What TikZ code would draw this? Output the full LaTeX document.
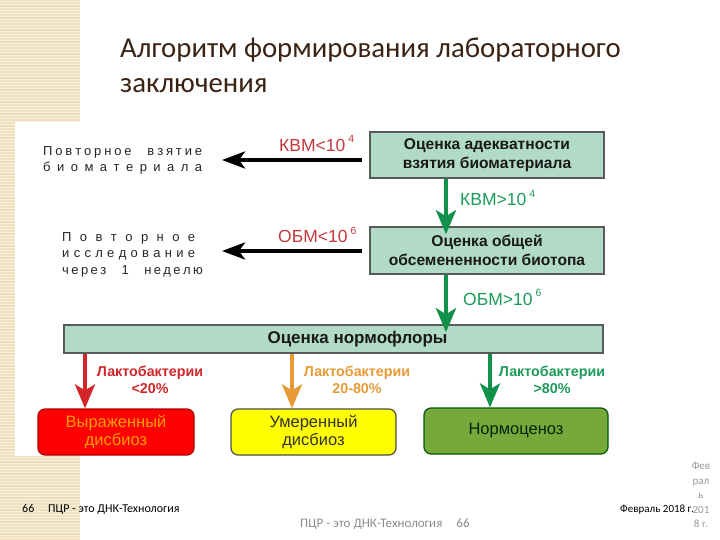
\documentclass[tikz,border=0pt]{standalone}
\usepackage{fontspec}
\setmainfont{Liberation Sans}
\newfontfamily\titlefont{Carlito}
\usepackage{xcolor}
\usetikzlibrary{arrows.meta,calc,positioning}

\definecolor{beige}{HTML}{EFE1BF}
\definecolor{beigeline}{HTML}{F8F0DC}
\definecolor{titlebrown}{HTML}{3B2314}
\definecolor{mint}{HTML}{B2DBC7}
\definecolor{boxgray}{HTML}{5A5A5A}
\definecolor{lowred}{HTML}{C4383C}
\definecolor{highgreen}{HTML}{1B9A58}
\definecolor{arrowgreen}{HTML}{119149}
\definecolor{dysred}{HTML}{D2262B}
\definecolor{dysorange}{HTML}{E79A36}
\definecolor{boxred}{HTML}{FF0000}
\definecolor{boxyellow}{HTML}{FFFF00}
\definecolor{boxgreen}{HTML}{76A83B}

\tikzset{
  checkbox/.style={draw=boxgray,line width=1.5pt,fill=mint,minimum width=234pt,minimum height=46pt,align=center,font=\fontsize{15.6}{19}\selectfont\bfseries,text=black!90},
  resultbox/.style={rounded corners=7pt,line width=1.2pt,minimum height=46pt,align=center,font=\fontsize{16.5}{18}\selectfont},
  sidetext/.style={inner sep=0pt,anchor=base west,align=left,text=black!85,font=\fontsize{13}{16.5}\selectfont},
  condlabel/.style={inner sep=0pt,anchor=base west,font=\fontsize{17.5}{18}\selectfont},
  lactolabel/.style={align=center,inner sep=0pt,font=\fontsize{14.3}{17}\selectfont\bfseries},
  backarrow/.style={line width=4pt,-{Stealth[length=23pt,width=17pt,inset=6pt]}},
  downarrow/.style={line width=4.5pt,-{Stealth[length=24pt,width=20pt,inset=6pt]}},
  footer/.style={inner sep=0pt,anchor=base west,font=\titlefont\fontsize{12}{12}\selectfont}
}
\newcommand{\expo}[1]{\kern3pt\raisebox{9pt}{\fontsize{10.5}{10}\selectfont #1}}

\begin{document}
\begin{tikzpicture}[x=1pt,y=-1pt]
\useasboundingbox (0,0) rectangle (720,540);
% striped side band
\fill[beige] (0,0) rectangle (80,540);
\foreach \yy in {1.5,4.5,...,538.5}{\draw[beigeline,line width=1pt] (0,\yy) -- (80,\yy);}
\fill[white] (15,122) rectangle (80,456);

% title
\node[inner sep=0pt,anchor=base west,align=left,text=titlebrown,font=\titlefont\fontsize{28.8}{35}\selectfont] (title) at (120,93) {Алгоритм формирования лабораторного\\заключения};

% check boxes
\node[checkbox] (adeq) at (487,155) {Оценка адекватности\\взятия биоматериала};
\node[checkbox,minimum height=47pt] (biot) at (487,250.5) {Оценка общей\\обсемененности биотопа};
\node[checkbox,minimum width=539pt,minimum height=28pt,font=\fontsize{17}{19}\selectfont\bfseries] (norm) at (333.5,339) {\hspace*{48pt}Оценка нормофлоры};

% outcomes
\node[resultbox,draw=red!70!black,fill=boxred,text=orange!75!yellow,minimum width=156pt] (strong) at (116,432) {Выраженный\\дисбиоз};
\node[resultbox,draw=black!70,fill=boxyellow,text=black!80,minimum width=165pt] (moderate) at (313.5,432) {Умеренный\\дисбиоз};
\node[resultbox,draw=green!35!black,fill=boxgreen,text=black!85!green,minimum width=184pt] (normo) at (516,431) {Нормоценоз};

% side texts
\node[sidetext] (retake) at (43,172) {\makebox[159pt][s]{П о в т о р н о е \quad в з я т и е}\\\makebox[159pt][s]{б и о м а т е р и а л а}};
\node[sidetext] (repeat) at (62,274) {\makebox[133pt][s]{П о в т о р н о е}\\\makebox[133pt][s]{и с с л е д о в а н и е}\\\makebox[133pt][s]{ч е р е з \quad 1 \quad н е д е л ю}};

% back arrows
\coordinate (retakeend) at (222,160);
\coordinate (repeatend) at (222,251);
\draw[backarrow] ([xshift=-7pt]adeq.west |- retakeend) -- (retakeend);
\draw[backarrow] ([xshift=-7pt]biot.west |- repeatend) -- (repeatend);
\node[condlabel,text=lowred] (kvmlow) at (279,152) {КВМ<10\expo{4}};
\node[condlabel,text=lowred] (obmlow) at (278,243) {ОБМ<10\expo{6}};

% forward arrows
\draw[downarrow,arrowgreen,shorten >=-8pt] ([xshift=-41pt]adeq.south) -- ([xshift=-41pt]biot.north);
\draw[downarrow,arrowgreen,shorten >=-8pt] ([xshift=-41pt]biot.south) -- ([xshift=-41pt]biot.south |- norm.north);
\node[condlabel,text=highgreen] (kvmhigh) at (460,206) {КВМ>10\expo{4}};
\node[condlabel,text=highgreen] (obmhigh) at (463,305) {ОБМ>10\expo{6}};

% normoflora arrows
\draw[downarrow,line width=4pt,dysred] ([xshift=-31pt]strong.north |- norm.south) -- ([xshift=-31pt]strong.north);
\draw[downarrow,line width=4pt,dysorange] ([xshift=-21.5pt]moderate.north |- norm.south) -- ([xshift=-21.5pt]moderate.north);
\draw[downarrow,line width=4pt,arrowgreen] ([xshift=-26pt]normo.north |- norm.south) -- ([xshift=-26pt]normo.north);
\node[lactolabel,text=dysred] (lacto1) at (150,380) {Лактобактерии\\<20\%};
\node[lactolabel,text=dysorange] (lacto2) at (357,380) {Лактобактерии\\20-80\%};
\node[lactolabel,text=highgreen] (lacto3) at (552,380) {Лактобактерии\\>80\%};

% footer
\node[footer] (pagenum) at (22,512) {66};
\node[footer] (lefttag) at (48,512) {ПЦР - это ДНК-Технология};
\node[footer,font=\titlefont\fontsize{11}{12}\selectfont] (date) at (620,512) {Февраль 2018 г.};
\node[footer,text=black!45,font=\titlefont\fontsize{13}{13}\selectfont] (midtag) at (300,527) {ПЦР - это ДНК-Технология\hspace{14pt}66};
\node[inner sep=0pt,align=center,text=black!40,font=\titlefont\fontsize{11}{14.5}\selectfont] (datestack) at (701,495) {Фев\\рал\\ь\\201\\8 г.};
\end{tikzpicture}
\end{document}
